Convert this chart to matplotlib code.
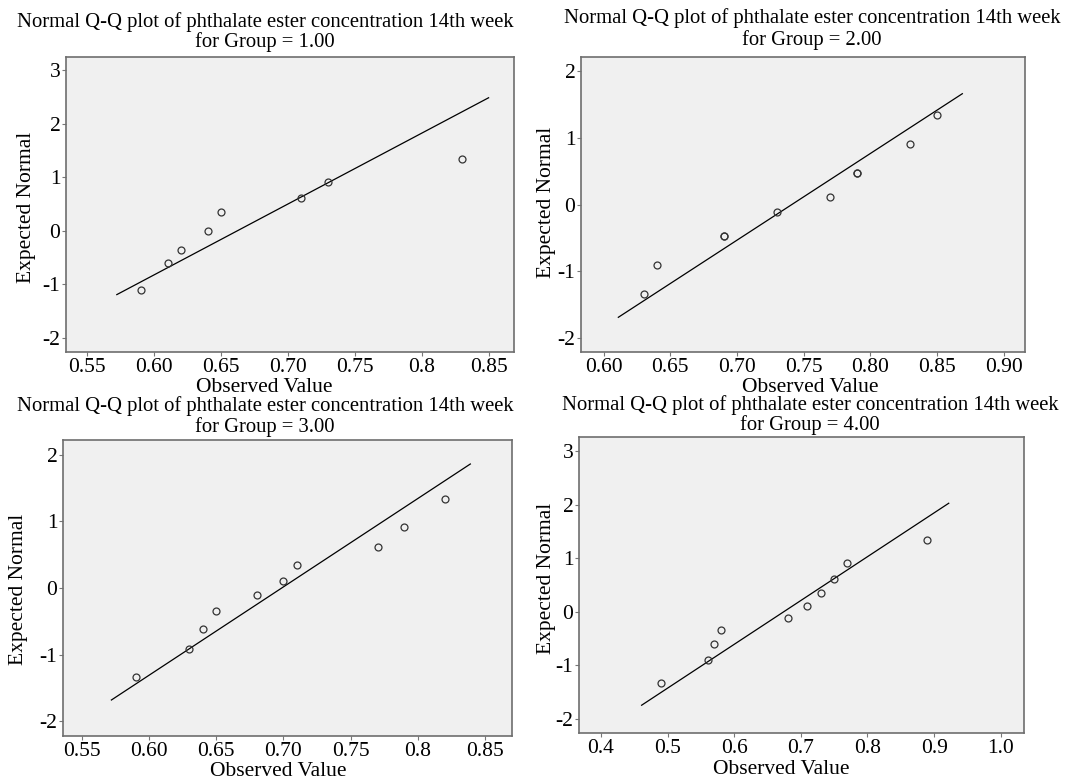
import matplotlib
matplotlib.use('Agg')
import matplotlib.pyplot as plt

plt.rcParams['font.family'] = ['Liberation Serif', 'DejaVu Serif']

W, H = 1085, 780

TITLE = 'Normal Q-Q plot of phthalate ester concentration 14th week'
GROUPS = ['1.00', '2.00', '3.00', '4.00']

g1_obs = [0.59, 0.61, 0.62, 0.64, 0.65, 0.71, 0.73, 0.83]
g1_exp = [-1.10, -0.61, -0.35, 0.00, 0.35, 0.61, 0.91, 1.34]
g1_line_x = [0.572, 0.850]
g1_line_y = [-1.19, 2.48]

g2_obs = [0.63, 0.64, 0.69, 0.69, 0.73, 0.77, 0.79, 0.79, 0.83, 0.85]
g2_exp = [-1.34, -0.91, -0.47, -0.47, -0.11, 0.11, 0.47, 0.47, 0.91, 1.34]
g2_line_x = [0.611, 0.869]
g2_line_y = [-1.69, 1.66]

g3_obs = [0.59, 0.63, 0.64, 0.65, 0.68, 0.70, 0.71, 0.77, 0.79, 0.82]
g3_exp = [-1.34, -0.91, -0.61, -0.35, -0.11, 0.11, 0.35, 0.61, 0.91, 1.34]
g3_line_x = [0.572, 0.839]
g3_line_y = [-1.68, 1.86]

g4_obs = [0.49, 0.56, 0.57, 0.58, 0.68, 0.71, 0.73, 0.75, 0.77, 0.89]
g4_exp = [-1.34, -0.91, -0.61, -0.35, -0.11, 0.11, 0.35, 0.61, 0.91, 1.34]
g4_line_x = [0.461, 0.922]
g4_line_y = [-1.75, 2.03]

g1_xticks = ['0.55', '0.60', '0.65', '0.70', '0.75', '0.8', '0.85']
g2_xticks = ['0.60', '0.65', '0.70', '0.75', '0.80', '0.85', '0.90']
g3_xticks = ['0.55', '0.60', '0.65', '0.70', '0.75', '0.8', '0.85']
g4_xticks = ['0.4', '0.5', '0.6', '0.7', '0.8', '0.9', '1.0']
yticks_a = ['-2', '-1', '0', '1', '2', '3']
yticks_b = ['-2', '-1', '0', '1', '2']

panels = [
    dict(obs=g1_obs, exp=g1_exp, lx=g1_line_x, ly=g1_line_y, xt=g1_xticks, yt=yticks_a,
         box=(66, 57, 514, 352), xlim=(0.534, 0.869), ylim=(-2.26, 3.24),
         tc=265, t1=27, t2=47, xl=(264, 392), yl=(27, 207)),
    dict(obs=g2_obs, exp=g2_exp, lx=g2_line_x, ly=g2_line_y, xt=g2_xticks, yt=yticks_b,
         box=(581, 57, 1025, 352), xlim=(0.583, 0.916), ylim=(-2.21, 2.21),
         tc=812, t1=23, t2=45, xl=(810, 392), yl=(547, 202)),
    dict(obs=g3_obs, exp=g3_exp, lx=g3_line_x, ly=g3_line_y, xt=g3_xticks, yt=yticks_b,
         box=(63, 440, 512, 736), xlim=(0.536, 0.870), ylim=(-2.22, 2.22),
         tc=265, t1=411, t2=432, xl=(278, 776), yl=(19, 589)),
    dict(obs=g4_obs, exp=g4_exp, lx=g4_line_x, ly=g4_line_y, xt=g4_xticks, yt=yticks_a,
         box=(579, 437, 1024, 733), xlim=(0.367, 1.035), ylim=(-2.27, 3.27),
         tc=810, t1=410, t2=430, xl=(781, 774), yl=(546, 578)),
]

FS_TITLE = 14.9
FS = 15.5

fig = plt.figure(figsize=(W / 100, H / 100), dpi=100)
fig.patch.set_facecolor('white')

for p, grp in zip(panels, GROUPS):
    x0, y0, x1, y1 = p['box']
    ax = fig.add_axes([x0 / W, 1 - y1 / H, (x1 - x0) / W, (y1 - y0) / H])
    ax.set_facecolor('#f0f0f0')
    ax.plot(p['lx'], p['ly'], color='black', lw=0.9)
    ax.plot(p['obs'], p['exp'], 'o', ms=5, mfc='none', mec='#333333', mew=0.9)
    ax.set_xlim(*p['xlim'])
    ax.set_ylim(*p['ylim'])
    ax.set_xticks([float(t) for t in p['xt']])
    ax.set_xticklabels(p['xt'])
    ax.set_yticks([float(t) for t in p['yt']])
    ax.set_yticklabels(p['yt'])
    ax.tick_params(labelsize=FS, length=3, width=0.8, color='#777777', pad=1)
    for s in ax.spines.values():
        s.set_color('#6e6e6e')
        s.set_linewidth(1.2)

    fig.text(p['tc'] / W, 1 - p['t1'] / H, TITLE, ha='center', va='baseline', fontsize=FS_TITLE)
    fig.text(p['tc'] / W, 1 - p['t2'] / H, 'for Group = ' + grp, ha='center', va='baseline',
             fontsize=FS_TITLE)
    fig.text(p['xl'][0] / W, 1 - p['xl'][1] / H, 'Observed Value', ha='center', va='baseline',
             fontsize=FS)
    fig.text(p['yl'][0] / W, 1 - p['yl'][1] / H, 'Expected Normal', ha='center', va='center',
             rotation=90, fontsize=FS)

fig.savefig('out.png', dpi=100)
